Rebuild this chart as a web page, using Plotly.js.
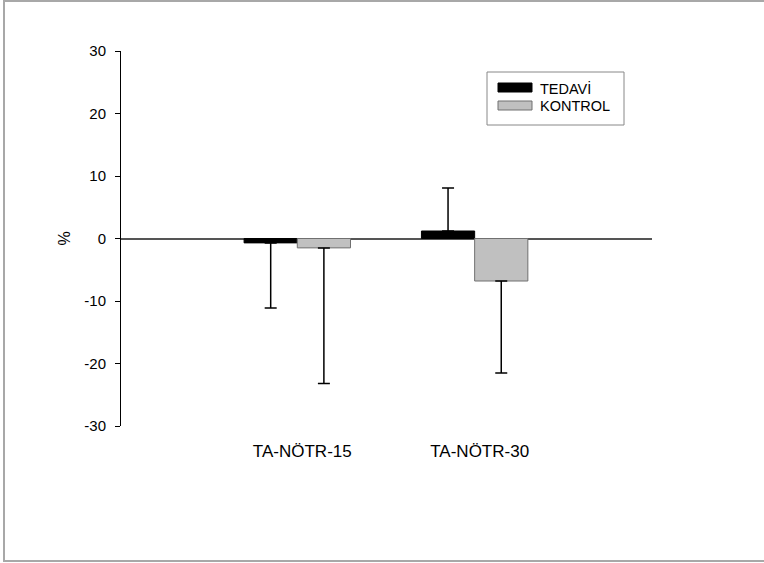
<!DOCTYPE html>
<html>
<head>
<meta charset="utf-8">
<script src="https://cdn.plot.ly/plotly-3.0.1.min.js"></script>
<style>
  html, body { margin: 0; padding: 0; background: #fff; overflow: hidden; }
  #chart { position: absolute; left: 0; top: 0; width: 764px; height: 563px; }
  #frame { position: absolute; left: 3px; top: 0px; width: 800px; height: 558px;
           border: 2px solid #a8a8a8; pointer-events: none; }
</style>
</head>
<body>
<div id="chart"></div>
<div id="frame"></div>
<script>
// ---- data ----
const categories = ["TA-NÖTR-15", "TA-NÖTR-30"];
const seriesNames = ["TEDAVİ", "KONTROL"];
const tedaviValues = [-0.7, 1.2];
const tedaviErrUp = [0, 6.9];
const tedaviErrDown = [10.4, 0];
const kontrolValues = [-1.5, -6.8];
const kontrolErrUp = [0, 0];
const kontrolErrDown = [21.7, 14.7];
const yTicks = [-30, -20, -10, 0, 10, 20, 30];

const FONT = "Liberation Sans, Arial, sans-serif";

const traces = [
  {
    type: "bar", name: seriesNames[0], x: categories, y: tedaviValues,
    marker: { color: "#000000", line: { color: "#000000", width: 1 } },
    error_y: { type: "data", symmetric: false, array: tedaviErrUp, arrayminus: tedaviErrDown,
               color: "#000000", thickness: 1.5, width: 6 },
    showlegend: false
  },
  {
    type: "bar", name: seriesNames[1], x: categories, y: kontrolValues,
    marker: { color: "#c0c0c0", line: { color: "#707070", width: 1 } },
    error_y: { type: "data", symmetric: false, array: kontrolErrUp, arrayminus: kontrolErrDown,
               color: "#000000", thickness: 1.5, width: 6 },
    showlegend: false
  }
];

// legend box drawn manually (wide swatches as in the reference)
const L = 121, W = 531, T = 51, H = 375;
const px = x => (x - L) / W;
const py = y => 1 - (y - T) / H;
const shapes = [
  { type: "rect", xref: "paper", yref: "paper", x0: px(487), x1: px(624), y0: py(125), y1: py(72),
    line: { color: "#888888", width: 1 }, fillcolor: "rgba(255,255,255,0)" },
  { type: "rect", xref: "paper", yref: "paper", x0: px(498), x1: px(532), y0: py(92), y1: py(83),
    line: { color: "#000000", width: 1 }, fillcolor: "#000000" },
  { type: "rect", xref: "paper", yref: "paper", x0: px(498), x1: px(532), y0: py(110), y1: py(101),
    line: { color: "#707070", width: 1 }, fillcolor: "#c0c0c0" }
];
const annotations = [
  { xref: "paper", yref: "paper", x: px(538), y: py(88), xanchor: "left", yanchor: "middle",
    text: seriesNames[0], showarrow: false, font: { family: FONT, size: 14.5, color: "#000" } },
  { xref: "paper", yref: "paper", x: px(538), y: py(106), xanchor: "left", yanchor: "middle",
    text: seriesNames[1], showarrow: false, font: { family: FONT, size: 14.5, color: "#000" } }
];

const layout = {
  width: 764, height: 563,
  margin: { l: 121, r: 112, t: 51, b: 137 },
  paper_bgcolor: "#ffffff", plot_bgcolor: "#ffffff",
  font: { family: FONT, color: "#000" },
  barmode: "group", bargap: 0.4, bargroupgap: 0,
  showlegend: false,
  xaxis: {
    type: "category", range: [-0.994, 2.0],
    showline: false, showgrid: false, zeroline: false, ticks: "",
    tickfont: { family: FONT, size: 17, color: "#000" },
    ticklabelstandoff: 13, ticklabelshift: 5
  },
  yaxis: {
    range: [-30, 30], tickvals: yTicks, ticktext: yTicks.map(String),
    showline: true, linecolor: "#000", linewidth: 1,
    ticks: "outside", ticklen: 5, tickcolor: "#000", tickwidth: 1,
    showgrid: false,
    zeroline: true, zerolinecolor: "#555555", zerolinewidth: 2,
    tickfont: { family: FONT, size: 15, color: "#000" },
    ticklabelstandoff: 6,
    title: { text: "%", font: { family: FONT, size: 16, color: "#000" }, standoff: 9 }
  },
  shapes: shapes,
  annotations: annotations
};

Plotly.newPlot("chart", traces, layout, { displayModeBar: false, staticPlot: true });
</script>
</body>
</html>
